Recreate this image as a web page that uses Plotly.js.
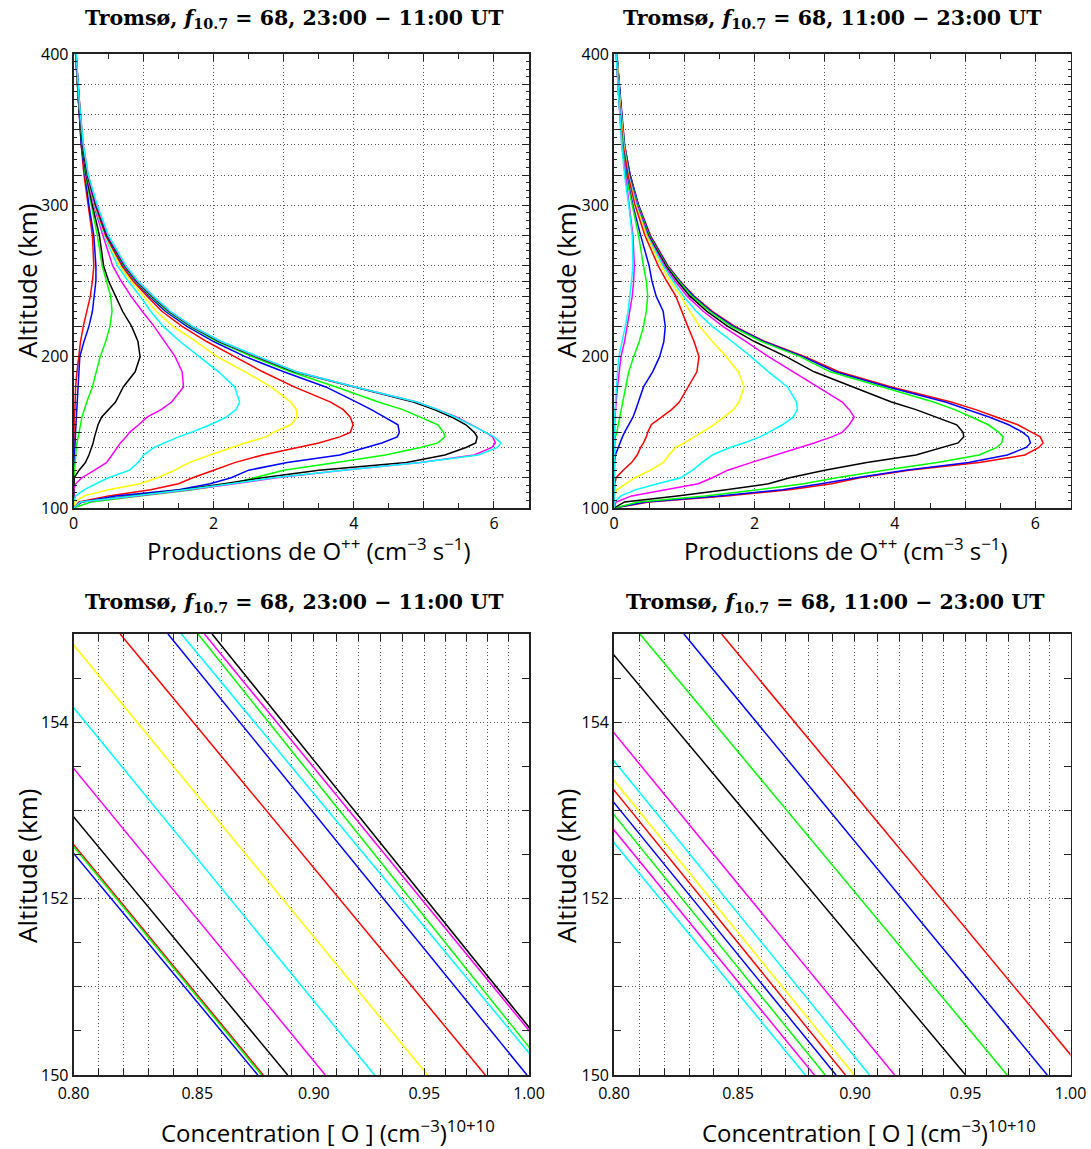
<!DOCTYPE html>
<html>
<head>
<meta charset="utf-8">
<script src="https://cdn.plot.ly/plotly-3.0.1.min.js"></script>
<style>html,body{margin:0;padding:0;background:#fff;}#chart{width:1091px;height:1149px;}</style>
</head>
<body>
<div id="chart"></div>
<script>
// ---------- DATA ----------
// Altitudes (km) for the production profiles
const altProd = [100,104,108,112,116,120,125,130,135,140,143,147,150,155,160,165,170,180,190,200,210,220,230,240,250,260,280,300,320,340,370,400];

// Top-left: O++ production (cm^-3 s^-1), 23:00 - 11:00 UT
const prodN_h23 = [0,0,0,0,0,0,0,0,0,0.005,0.005,0.005,0.01,0.01,0.01,0.02,0.02,0.03,0.05,0.07,0.1,0.14,0.19,0.24,0.27,0.29,0.27,0.21,0.15,0.11,0.07,0.03];
const prodN_h00 = [0,0,0,0,0,0.005,0.005,0.01,0.01,0.02,0.02,0.025,0.03,0.035,0.04,0.045,0.05,0.06,0.07,0.09,0.15,0.22,0.27,0.3,0.32,0.32,0.29,0.22,0.16,0.11,0.07,0.03];
const prodN_h01 = [0,0,0.005,0.005,0.01,0.01,0.015,0.02,0.03,0.04,0.05,0.07,0.08,0.1,0.12,0.15,0.19,0.27,0.33,0.38,0.46,0.52,0.55,0.53,0.47,0.41,0.34,0.25,0.17,0.12,0.07,0.03];
const prodN_h02 = [0,0,0,0,0,0.01,0.08,0.17,0.22,0.26,0.28,0.3,0.32,0.35,0.4,0.5,0.6,0.71,0.88,0.95,0.92,0.83,0.7,0.6,0.5,0.43,0.37,0.27,0.18,0.12,0.07,0.035];
const prodN_h03 = [0,0,0,0.005,0.03,0.12,0.3,0.47,0.55,0.63,0.67,0.75,0.8,0.93,1.05,1.25,1.4,1.57,1.55,1.45,1.3,1.15,0.98,0.82,0.68,0.56,0.42,0.29,0.19,0.13,0.075,0.035];
const prodN_h04 = [0,0.005,0.03,0.15,0.32,0.5,0.8,0.92,1.0,1.15,1.3,1.5,1.68,1.95,2.18,2.32,2.37,2.3,2.07,1.8,1.52,1.28,1.1,0.95,0.78,0.63,0.44,0.3,0.2,0.13,0.075,0.035];
const prodN_h05 = [0,0.02,0.15,0.5,0.95,1.2,1.45,1.65,1.95,2.25,2.45,2.75,2.85,3.1,3.19,3.18,3.1,2.82,2.45,2.05,1.75,1.42,1.18,1.0,0.82,0.66,0.45,0.31,0.2,0.13,0.075,0.035];
const prodN_h06 = [0,0.08,0.5,1.1,1.5,1.7,2.0,2.3,2.7,3.2,3.5,3.8,3.95,3.99,3.95,3.85,3.67,3.15,2.7,2.3,1.9,1.55,1.26,1.05,0.85,0.69,0.46,0.31,0.2,0.13,0.078,0.036];
const prodN_h07 = [0,0.12,0.6,1.5,1.95,2.25,2.5,3.05,3.8,4.2,4.4,4.62,4.65,4.63,4.45,4.25,4.04,3.6,3.0,2.45,2.0,1.62,1.31,1.08,0.88,0.71,0.47,0.32,0.2,0.13,0.078,0.036];
const prodN_h08 = [0,0.25,0.95,1.7,2.25,2.6,3.0,3.75,4.45,4.95,5.2,5.3,5.28,5.2,4.95,4.7,4.35,3.75,3.1,2.55,2.05,1.66,1.34,1.1,0.89,0.72,0.48,0.32,0.2,0.13,0.078,0.037];
const prodN_h09 = [0,0.1,0.8,1.55,2.15,2.7,3.5,4.75,5.3,5.6,5.74,5.76,5.72,5.6,5.4,5.15,4.85,4.0,3.15,2.6,2.08,1.68,1.36,1.12,0.9,0.73,0.48,0.32,0.2,0.13,0.078,0.037];
const prodN_h10 = [0,0.1,0.9,1.65,2.3,2.9,3.85,4.95,5.72,5.97,6.02,5.98,5.88,5.68,5.47,5.2,4.9,4.02,3.18,2.62,2.1,1.69,1.37,1.13,0.91,0.74,0.49,0.33,0.21,0.14,0.08,0.038];
const prodN_h11 = [0,0.1,0.85,1.6,2.25,2.85,3.85,4.95,5.78,6.05,6.1,6.0,5.88,5.66,5.45,5.2,4.9,4.02,3.18,2.64,2.11,1.7,1.38,1.14,0.92,0.75,0.5,0.34,0.21,0.14,0.08,0.04];

// Top-right: O++ production (cm^-3 s^-1), 11:00 - 23:00 UT
const prodD_h11 = [0,0.5,1.6,2.5,3.1,3.5,4.2,5.2,5.85,6.05,6.11,6.07,5.95,5.75,5.45,5.15,4.8,3.95,3.2,2.72,2.15,1.72,1.4,1.14,0.94,0.77,0.52,0.35,0.23,0.15,0.09,0.04];
const prodD_h12 = [0,0.45,1.5,2.4,2.95,3.45,4.15,5.05,5.6,5.87,5.93,5.9,5.82,5.62,5.35,5.05,4.72,3.9,3.15,2.69,2.13,1.7,1.38,1.13,0.93,0.76,0.51,0.35,0.23,0.15,0.09,0.04];
const prodD_h13 = [0,0.35,1.3,2.05,2.7,3.17,3.85,4.6,5.2,5.45,5.52,5.54,5.48,5.33,5.1,4.85,4.55,3.8,3.08,2.65,2.1,1.67,1.36,1.11,0.92,0.75,0.5,0.34,0.22,0.145,0.085,0.04];
const prodD_h14 = [0,0.15,0.9,1.6,2.2,2.5,3.0,3.6,4.3,4.7,4.9,4.98,4.97,4.88,4.6,4.3,3.95,3.4,2.85,2.45,2.0,1.62,1.32,1.08,0.9,0.74,0.49,0.33,0.22,0.14,0.085,0.04];
const prodD_h15 = [0,0.03,0.25,0.75,1.2,1.4,1.62,1.95,2.3,2.65,2.85,3.1,3.25,3.35,3.42,3.35,3.25,2.9,2.55,2.2,1.88,1.55,1.27,1.04,0.87,0.72,0.48,0.33,0.21,0.14,0.085,0.04];
const prodD_h16 = [0,0.01,0.1,0.3,0.62,0.95,1.12,1.25,1.4,1.65,1.85,2.08,2.2,2.4,2.55,2.61,2.6,2.47,2.2,1.95,1.68,1.4,1.17,0.99,0.84,0.7,0.47,0.32,0.21,0.14,0.085,0.04];
const prodD_h17 = [0,0,0.01,0.04,0.17,0.3,0.52,0.7,0.78,0.88,1.0,1.15,1.25,1.42,1.56,1.7,1.78,1.85,1.77,1.6,1.4,1.22,1.08,0.95,0.8,0.67,0.46,0.31,0.2,0.135,0.08,0.038];
const prodD_h18 = [0,0,0,0,0.01,0.03,0.13,0.25,0.33,0.38,0.42,0.46,0.48,0.53,0.68,0.82,0.93,1.05,1.18,1.21,1.14,1.05,0.97,0.88,0.75,0.63,0.44,0.3,0.2,0.13,0.075,0.035];
const prodD_h19 = [0,0,0,0,0,0,0.003,0.005,0.02,0.06,0.08,0.12,0.15,0.21,0.27,0.31,0.35,0.42,0.55,0.65,0.71,0.73,0.7,0.6,0.54,0.5,0.38,0.27,0.18,0.12,0.07,0.033];
const prodD_h20 = [0,0,0,0,0,0,0,0,0,0.005,0.01,0.02,0.04,0.06,0.08,0.1,0.12,0.16,0.21,0.28,0.36,0.42,0.46,0.48,0.46,0.42,0.35,0.26,0.17,0.12,0.07,0.033];
const prodD_h22 = [0,0,0,0,0,0,0,0,0,0,0,0,0.005,0.01,0.015,0.02,0.03,0.05,0.08,0.1,0.15,0.19,0.23,0.26,0.28,0.29,0.27,0.22,0.16,0.11,0.07,0.03];
const prodD_h23 = [0,0,0,0,0,0,0,0,0,0,0,0,0.005,0.005,0.01,0.015,0.02,0.035,0.05,0.07,0.12,0.16,0.2,0.23,0.25,0.27,0.26,0.21,0.15,0.11,0.065,0.03];

// Altitudes (km) for the [O] concentration profiles (zoomed 150-155 km)
const altConc = [150, 155];
// Bottom-left: [O] in units of 1e10 cm^-3, 23:00 - 11:00 UT
const concN_h23 = [0.8779, 0.7349];
const concN_h00 = [0.8756, 0.7317];
const concN_h01 = [0.8772, 0.7343];
const concN_h02 = [0.8885, 0.7428];
const concN_h03 = [0.9050, 0.7580];
const concN_h04 = [0.9271, 0.7767];
const concN_h05 = [0.9515, 0.7965];
const concN_h06 = [0.9788, 0.8185];
const concN_h07 = [0.9990, 0.8379];
const concN_h08 = [1.0110, 0.8503];
const concN_h09 = [1.0190, 0.8562];
const concN_h10 = [1.0180, 0.8530];
const concN_h11 = [1.0090, 0.8434];
// Bottom-right: [O] in units of 1e10 cm^-3, 11:00 - 23:00 UT
const concD_h11 = [1.0083, 0.8432];
const concD_h12 = [0.9887, 0.8278];
const concD_h13 = [0.9695, 0.8102];
const concD_h14 = [0.9500, 0.7931];
const concD_h15 = [0.9176, 0.7689];
const concD_h16 = [0.9064, 0.7606];
const concD_h17 = [0.8997, 0.7546];
const concD_h18 = [0.8958, 0.7519];
const concD_h19 = [0.8917, 0.7480];
const concD_h20 = [0.8870, 0.7446];
const concD_h22 = [0.8823, 0.7397];
const concD_h23 = [0.8784, 0.7355];

// Tick labels
const prodTickVals = [0,1,2,3,4,5,6];
const prodTickText = ['0',' ','2',' ','4',' ','6'];
const altProdTickVals = [100,120,140,150,160,180,200,220,240,250,260,280,300,320,340,350,360,380,400];
const altProdTickText = altProdTickVals.map(v => (v % 100 === 0 ? String(v) : ' '));
const concTickVals = [0.80,0.81,0.82,0.83,0.84,0.85,0.86,0.87,0.88,0.89,0.90,0.91,0.92,0.93,0.94,0.95,0.96,0.97,0.98,0.99,1.00];
const concTickText = ['0.80',' ',' ',' ',' ','0.85',' ',' ',' ',' ','0.90',' ',' ',' ',' ','0.95',' ',' ',' ',' ','1.00'];
const altConcTickVals = [150,151,152,153,154,155];
const altConcTickText = ['150',' ','152',' ','154',' '];

// ---------- PLOT ----------
const C = {r:'#ff0000', b:'#0000ff', g:'#00ff00', k:'#000000', m:'#ff00ff', c:'#00ffff', y:'#ffff00'};

const nightProd = [['23:00',prodN_h23,C.r],['00:00',prodN_h00,C.b],['01:00',prodN_h01,C.g],['02:00',prodN_h02,C.k],['03:00',prodN_h03,C.m],['04:00',prodN_h04,C.c],['05:00',prodN_h05,C.y],['06:00',prodN_h06,C.r],['07:00',prodN_h07,C.b],['08:00',prodN_h08,C.g],['09:00',prodN_h09,C.k],['10:00',prodN_h10,C.m],['11:00',prodN_h11,C.c]];
const dayProd = [['11:00',prodD_h11,C.r],['12:00',prodD_h12,C.b],['13:00',prodD_h13,C.g],['14:00',prodD_h14,C.k],['15:00',prodD_h15,C.m],['16:00',prodD_h16,C.c],['17:00',prodD_h17,C.y],['18:00',prodD_h18,C.r],['19:00',prodD_h19,C.b],['20:00',prodD_h20,C.g],['22:00',prodD_h22,C.m],['23:00',prodD_h23,C.c]];
const nightConc = [['23:00',concN_h23,C.r],['00:00',concN_h00,C.b],['01:00',concN_h01,C.g],['02:00',concN_h02,C.k],['03:00',concN_h03,C.m],['04:00',concN_h04,C.c],['05:00',concN_h05,C.y],['06:00',concN_h06,C.r],['07:00',concN_h07,C.b],['08:00',concN_h08,C.g],['09:00',concN_h09,C.k],['10:00',concN_h10,C.m],['11:00',concN_h11,C.c]];
const dayConc = [['11:00',concD_h11,C.r],['12:00',concD_h12,C.b],['13:00',concD_h13,C.g],['14:00',concD_h14,C.k],['15:00',concD_h15,C.m],['16:00',concD_h16,C.c],['17:00',concD_h17,C.y],['18:00',concD_h18,C.r],['19:00',concD_h19,C.b],['20:00',concD_h20,C.g],['22:00',concD_h22,C.m],['23:00',concD_h23,C.c]];

const traces = [];
function addSet(set, alt, xa, ya) {
  set.forEach(([name, vals, col]) => {
    traces.push({type:'scatter', mode:'lines', name:name, x:vals, y:alt, xaxis:xa, yaxis:ya,
      line:{color:col, width:1.5}, showlegend:false, hoverinfo:'x+y+name'});
  });
}
addSet(nightProd, altProd, 'x', 'y');
addSet(dayProd, altProd, 'x2', 'y2');
addSet(nightConc, altConc, 'x3', 'y3');
addSet(dayConc, altConc, 'x4', 'y4');

const W = 1091, H = 1149;
const tickFont = {family:'Open Sans, Noto Sans, sans-serif', size:16, color:'#000'};
const common = {
  showline:true, linecolor:'#222', linewidth:1.8, mirror:'allticks',
  ticks:'inside', ticklen:7, tickwidth:1, tickcolor:'#222',
  showgrid:true, gridcolor:'#555', griddash:'1px,2.5px', gridwidth:1,
  zeroline:false, tickfont:tickFont, automargin:false, fixedrange:true
};
const xdL = [73.5/W, 529/W], xdR = [614/W, 1070.5/W];
const ydT = [1-508/H, 1-54/H], ydB = [1-1075/H, 1-634/H];

function prodX(dom, anchor) {
  return Object.assign({}, common, {domain:dom, anchor:anchor, range:[0,6.5],
    tickmode:'array', tickvals:prodTickVals, ticktext:prodTickText,
    minor:{tickmode:'linear', tick0:0, dtick:0.5, ticks:'inside', ticklen:5, tickcolor:'#222', showgrid:false}});
}
function prodY(dom, anchor) {
  return Object.assign({}, common, {domain:dom, anchor:anchor, range:[100,400],
    tickmode:'array', tickvals:altProdTickVals, ticktext:altProdTickText,
    minor:{tickmode:'linear', tick0:100, dtick:5, ticks:'inside', ticklen:3, tickcolor:'#222', showgrid:false}});
}
function concX(dom, anchor) {
  return Object.assign({}, common, {domain:dom, anchor:anchor, type:'log', range:[Math.log10(0.8), 0],
    tickmode:'array', tickvals:concTickVals, ticktext:concTickText, ticklabelstandoff:3});
}
function concY(dom, anchor) {
  return Object.assign({}, common, {domain:dom, anchor:anchor, range:[150,155],
    tickmode:'array', tickvals:altConcTickVals, ticktext:altConcTickText,
    minor:{tickmode:'linear', tick0:150, dtick:0.5, ticks:'inside', ticklen:7, tickcolor:'#222', showgrid:false}});
}

const titleFont = {family:'DejaVu Serif, serif', size:20.5, color:'#000'};
const labFont = {family:'Open Sans, Noto Sans, sans-serif', size:24, color:'#000'};
const yLabFont = {family:'Open Sans, Noto Sans, sans-serif', size:26, color:'#000'};
const tN = '<b>Tromsø, <i>f</i><sub>10.7</sub> = 68, 23:00 − 11:00 UT</b>';
const tD = '<b>Tromsø, <i>f</i><sub>10.7</sub> = 68, 11:00 − 23:00 UT</b>';
const prodLab = 'Productions de O<sup>++</sup> (cm<sup>−3</sup> s<sup>−1</sup>)';
const concLab = 'Concentration [ O ] (cm<sup>−3</sup>)<sup>10+10</sup>';
function ann(text, x, y, font, angle) {
  return {text:text, x:x, y:y, xref:'paper', yref:'paper', xanchor:'center', yanchor:'middle',
    showarrow:false, font:font, textangle:angle || 0};
}

const layout = {
  width:W, height:H, margin:{l:0, r:0, t:0, b:0},
  paper_bgcolor:'#fff', plot_bgcolor:'#fff', showlegend:false,
  xaxis: prodX(xdL, 'y'), yaxis: prodY(ydT, 'x'),
  xaxis2: prodX(xdR, 'y2'), yaxis2: prodY(ydT, 'x2'),
  xaxis3: concX(xdL, 'y3'), yaxis3: concY(ydB, 'x3'),
  xaxis4: concX(xdR, 'y4'), yaxis4: concY(ydB, 'x4'),
  annotations: [
    ann(tN, 294/W, 1-19/H, titleFont), ann(tD, 832/W, 1-19/H, titleFont),
    ann(tN, 294/W, 1-603/H, titleFont), ann(tD, 835/W, 1-603/H, titleFont),
    ann(prodLab, 308/W, 1-549/H, labFont), ann(prodLab, 845/W, 1-549/H, labFont),
    ann(concLab, 328/W, 1-1131/H, labFont), ann(concLab, 869/W, 1-1131/H, labFont),
    ann('Altitude (km)', 27/W, 1-281/H, yLabFont, -90), ann('Altitude (km)', 566/W, 1-281/H, yLabFont, -90),
    ann('Altitude (km)', 27/W, 1-866/H, yLabFont, -90), ann('Altitude (km)', 566/W, 1-866/H, yLabFont, -90)
  ]
};

Plotly.newPlot('chart', traces, layout, {staticPlot:true, displayModeBar:false});
</script>
</body>
</html>
